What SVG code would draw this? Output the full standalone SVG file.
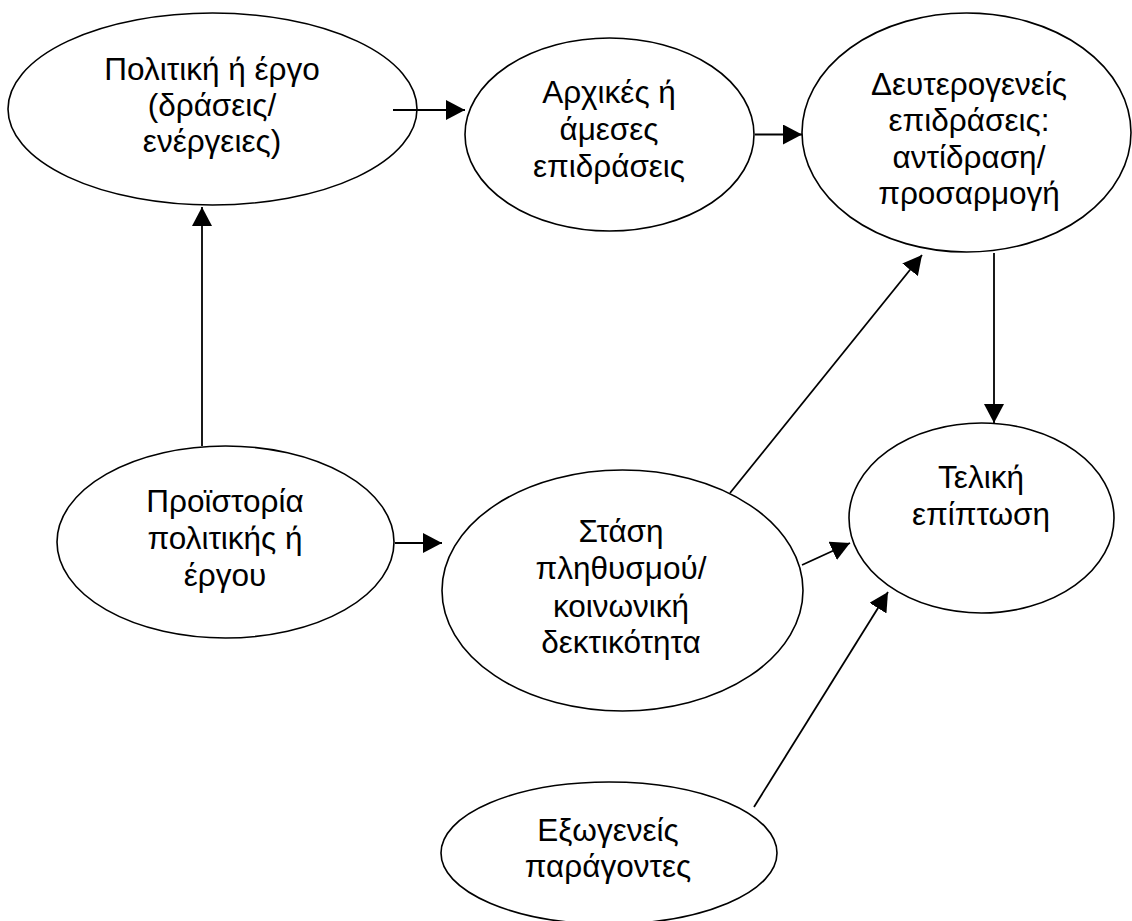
<svg xmlns="http://www.w3.org/2000/svg" width="1132" height="921" viewBox="0 0 1132 921">
<style>
.n{fill:#fff;stroke:#000;stroke-width:1.6}
.t{font-family:"Liberation Sans",Arial,sans-serif;font-size:31.5px;fill:#000;text-anchor:middle}
.c{stroke:#000;stroke-width:1.8;fill:none;marker-end:url(#ah)}
</style>
<defs>
<marker id="ah" markerUnits="userSpaceOnUse" markerWidth="20" markerHeight="20" refX="19" refY="10" orient="auto">
<path d="M0,0 L19,10 L0,20 Z" fill="#000"/>
</marker>
</defs>
<rect width="1132" height="921" fill="#fff"/>
<g id="n1"><ellipse class="n" cx="212.5" cy="109" rx="204.5" ry="96"/>
<text class="t"><tspan x="212" y="80">Πολιτική ή έργο</tspan><tspan x="212" y="116">(δράσεις/</tspan><tspan x="212" y="152">ενέργειες)</tspan></text></g>
<g id="n2"><ellipse class="n" cx="609.5" cy="134.5" rx="144.5" ry="96.5"/>
<text class="t"><tspan x="609" y="103">Αρχικές ή</tspan><tspan x="609" y="140">άμεσες</tspan><tspan x="609" y="177">επιδράσεις</tspan></text></g>
<g id="n3"><ellipse class="n" cx="966.5" cy="132.5" rx="164.5" ry="119.5"/>
<text class="t"><tspan x="969" y="95">Δευτερογενείς</tspan><tspan x="969" y="131">επιδράσεις:</tspan><tspan x="969" y="168">αντίδραση/</tspan><tspan x="969" y="204">προσαρμογή</tspan></text></g>
<g id="n4"><ellipse class="n" cx="981.5" cy="518" rx="132.5" ry="95"/>
<text class="t"><tspan x="981" y="488">Τελική</tspan><tspan x="981" y="525">επίπτωση</tspan></text></g>
<g id="n5"><ellipse class="n" cx="225.5" cy="542" rx="168.5" ry="96"/>
<text class="t"><tspan x="225" y="512">Προϊστορία</tspan><tspan x="225" y="549">πολιτικής ή</tspan><tspan x="225" y="586">έργου</tspan></text></g>
<g id="n6"><ellipse class="n" cx="622.5" cy="590.5" rx="180.5" ry="120.5"/>
<text class="t"><tspan x="621" y="542">Στάση</tspan><tspan x="621" y="579">πληθυσμού/</tspan><tspan x="621" y="617">κοινωνική</tspan><tspan x="621" y="653">δεκτικότητα</tspan></text></g>
<g id="n7"><ellipse class="n" cx="609" cy="853" rx="168" ry="71"/>
<text class="t"><tspan x="608" y="841">Εξωγενείς</tspan><tspan x="608" y="877">παράγοντες</tspan></text></g>
<g id="connectors">
<line class="c" x1="393" y1="110" x2="465" y2="110"/>
<line class="c" x1="755" y1="134.5" x2="802" y2="134.5"/>
<line class="c" x1="202" y1="446" x2="202" y2="207"/>
<line class="c" x1="395" y1="543" x2="442" y2="543"/>
<line class="c" x1="994" y1="253" x2="994" y2="423"/>
<line class="c" x1="730" y1="493" x2="922" y2="255"/>
<line class="c" x1="802" y1="565" x2="850" y2="543"/>
<line class="c" x1="754" y1="807" x2="888" y2="592"/>
</g>
</svg>
